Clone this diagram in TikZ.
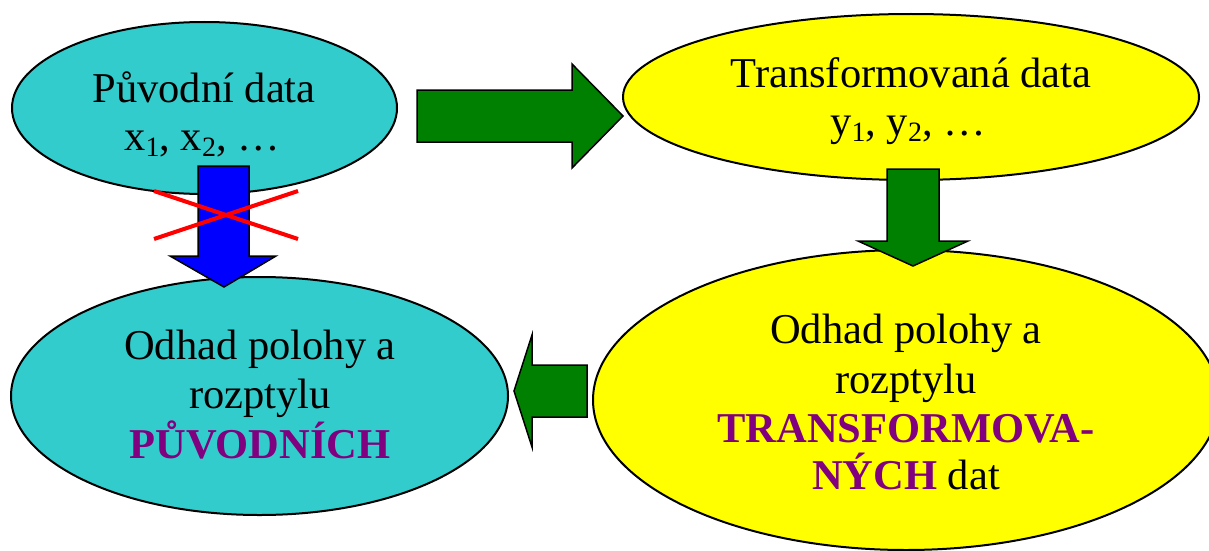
\documentclass[tikz,border=0pt]{standalone}
\usepackage{fontspec}
\setmainfont{Liberation Serif}
\usetikzlibrary{shapes.geometric}
\definecolor{cyanfill}{RGB}{51,204,204}
\definecolor{yel}{RGB}{255,255,0}
\definecolor{grn}{RGB}{0,128,0}
\definecolor{blu}{RGB}{0,0,255}
\definecolor{purp}{RGB}{128,0,128}
\definecolor{redx}{RGB}{255,0,0}
\newcommand{\sbs}[1]{\raisebox{-6pt}{\fontsize{28}{30}\selectfont #1}}
\tikzset{
  blob/.style={ellipse, draw=black, line width=2pt, inner sep=0pt, outer sep=0pt},
  lbl/.style={anchor=base, inner sep=0pt, font=\fontsize{42.5}{49}\selectfont},
  boldlbl/.style={lbl, text=purp, font=\fontsize{42.5}{49}\selectfont\bfseries},
  blockarrow/.style={draw=black, line width=1.5pt, line join=miter},
  cross/.style={draw=redx, line width=4pt},
}
\begin{document}
\begin{tikzpicture}[x=1pt,y=-1pt]
\useasboundingbox (0,0) rectangle (1209,551);
% ellipses
\node[blob, fill=cyanfill, minimum width=385pt, minimum height=172pt] (orig) at (204.5,108) {};
\node[blob, fill=yel, minimum width=576pt, minimum height=166pt] (trans) at (911,97) {};
\node[blob, fill=cyanfill, minimum width=497pt, minimum height=238pt] (estorig) at (259.5,396) {};
\node[blob, fill=yel, minimum width=626pt, minimum height=300pt] (esttrans) at (906,400) {};
% texts
\node[lbl] (t1a) at (204,102) {Původní data};
\node[lbl] (t1b) at (202,150) {x\sbs{1}, x\sbs{2}, …};
\node[lbl] (t2a) at (911,88) {Transformovaná data};
\node[lbl] (t2b) at (908,135) {y\sbs{1}, y\sbs{2}, …};
\node[lbl] (t3a) at (260,359) {Odhad polohy a};
\node[lbl] (t3b) at (260,408) {rozptylu};
\node[boldlbl] (t3c) at (260,458) {PŮVODNÍCH};
\node[lbl] (t4a) at (906,343) {Odhad polohy a};
\node[lbl] (t4b) at (906,393) {rozptylu};
\node[boldlbl] (t4c) at (906,442) {TRANSFORMOVA-};
\node[lbl] (t4d) at (906,489) {{\color{purp}\bfseries NÝCH} dat};
% block arrows
\draw[blockarrow, fill=grn] (417,90) -- (572,90) -- (572,64) -- (623,116) -- (572,168) -- (572,142) -- (417,142) -- cycle;
\draw[blockarrow, fill=blu] (198,166) -- (249,166) -- (249,256) -- (276,256) -- (224,287) -- (170,256) -- (198,256) -- cycle;
\draw[blockarrow, fill=grn] (887,169) -- (939,169) -- (939,241) -- (968,241) -- (913,266) -- (858,241) -- (887,241) -- cycle;
\draw[blockarrow, fill=grn] (587,365) -- (587,417) -- (532,417) -- (532,447) -- (514,391) -- (532,335) -- (532,365) -- cycle;
% red cross
\draw[cross] (154,191) -- (298,239);
\draw[cross] (154,239) -- (298,191);
\end{tikzpicture}
\end{document}
